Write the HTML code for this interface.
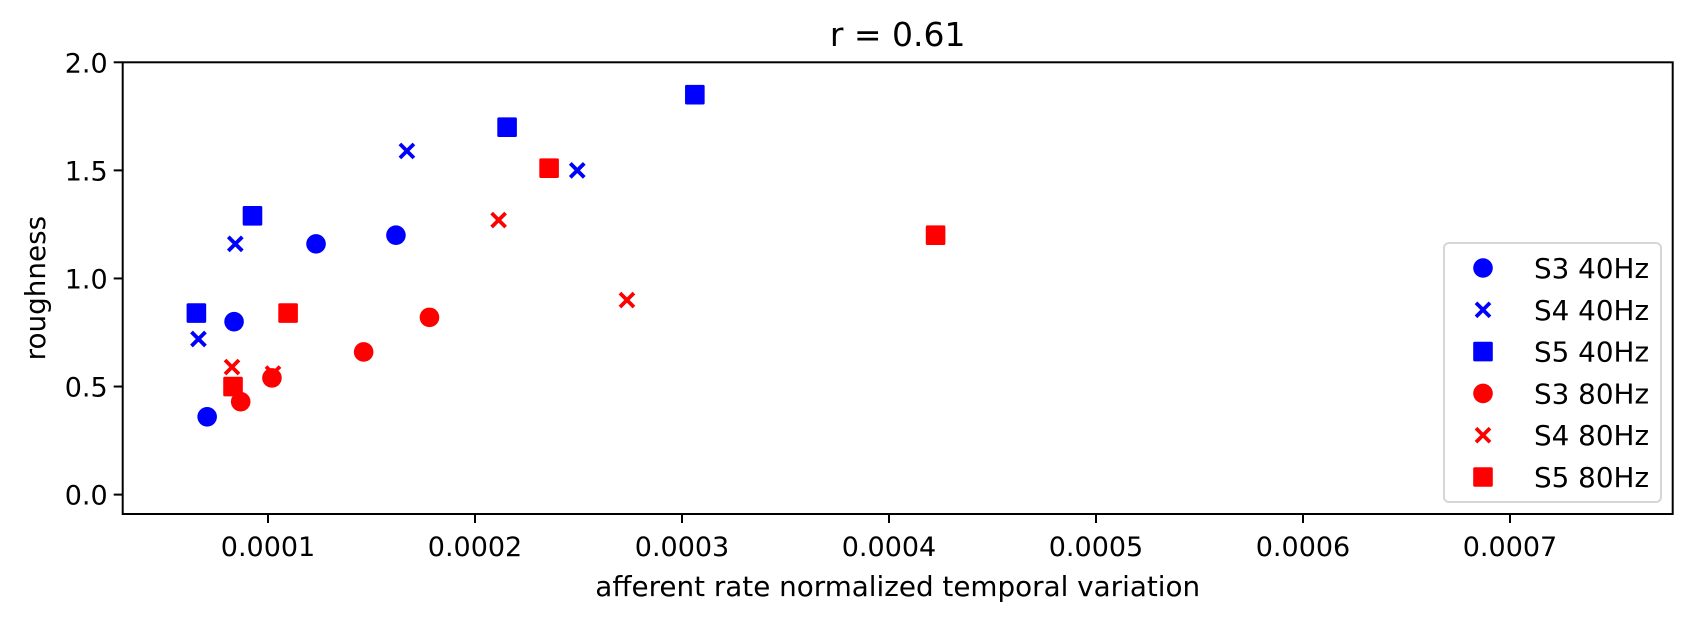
<!DOCTYPE html>
<html><head><meta charset="utf-8"><style>
html,body{margin:0;padding:0;background:#fff;}
svg{display:block;font-family:"DejaVu Sans","Liberation Sans",sans-serif;}
</style></head><body>
<svg id="chart" width="1692" height="622" viewBox="0 0 1692 622" xmlns="http://www.w3.org/2000/svg">
<rect width="1692" height="622" fill="#fff"/>
<g id="marks"></g>
<g id="axes"></g>
<g id="legend"></g>
</svg>
<script>
const seriesNames = ["S3 40Hz","S4 40Hz","S5 40Hz","S3 80Hz","S4 80Hz","S5 80Hz"];
const seriesColors = ["#0000ff","#0000ff","#0000ff","#ff0000","#ff0000","#ff0000"];
const seriesMarkers = ["circle","x","square","circle","x","square"];
const s3_40_x = [0.0000706,0.0000836,0.0001232,0.0001618];
const s3_40_y = [0.36,0.80,1.16,1.20];
const s4_40_x = [0.0000664,0.0000842,0.0001671,0.0002494];
const s4_40_y = [0.72,1.16,1.59,1.50];
const s5_40_x = [0.0000654,0.0000925,0.0002155,0.0003062];
const s5_40_y = [0.84,1.29,1.70,1.85];
const s3_80_x = [0.0000868,0.0001019,0.0001462,0.000178];
const s3_80_y = [0.43,0.54,0.66,0.82];
const s4_80_x = [0.0000826,0.0001024,0.0002114,0.0002734];
const s4_80_y = [0.59,0.56,1.27,0.90];
const s5_80_x = [0.0000831,0.0001097,0.0002358,0.0004225];
const s5_80_y = [0.50,0.84,1.51,1.20];
const xTicks = [0.0001,0.0002,0.0003,0.0004,0.0005,0.0006,0.0007];
const xTickLabels = ["0.0001","0.0002","0.0003","0.0004","0.0005","0.0006","0.0007"];
const yTicks = [0.0,0.5,1.0,1.5,2.0];
const yTickLabels = ["0.0","0.5","1.0","1.5","2.0"];

const NS="http://www.w3.org/2000/svg";
const L=122.7,R=1672.7,T=62.3,B=514;
const xmin=0.0000298,xmax=0.0007786,ymin=-0.0897,ymax=2.0;
function sx(v){return L+(v-xmin)/(xmax-xmin)*(R-L);}
function sy(v){return B-(v-ymin)/(ymax-ymin)*(B-T);}
function mk(tag,attrs,parent){const e=document.createElementNS(NS,tag);for(const k in attrs)e.setAttribute(k,attrs[k]);parent.appendChild(e);return e;}

function drawMarker(parent,type,cx,cy,color){
  let el;
  if(type==="circle"){el=mk("circle",{cx:cx,cy:cy,r:9.8,fill:color},parent);}
  else if(type==="square"){el=mk("rect",{x:cx-9.8,y:cy-9.8,width:19.6,height:19.6,rx:1.5,fill:color},parent);}
  else{el=mk("path",{d:`M${cx-7},${cy-7}L${cx+7},${cy+7}M${cx-7},${cy+7}L${cx+7},${cy-7}`,stroke:color,"stroke-width":3.8,fill:"none"},parent);}
  return el;
}

const marks=document.getElementById("marks");
const allX=[s3_40_x,s4_40_x,s5_40_x,s3_80_x,s4_80_x,s5_80_x];
const allY=[s3_40_y,s4_40_y,s5_40_y,s3_80_y,s4_80_y,s5_80_y];
allX.forEach((xs,si)=>{
  xs.forEach((xv,i)=>{
    const el=drawMarker(marks,seriesMarkers[si],sx(xv),sy(allY[si][i]),seriesColors[si]);
    
    
  });
});

const axes=document.getElementById("axes");
const frame=mk("rect",{x:L,y:T,width:R-L,height:B-T,fill:"none",stroke:"#000","stroke-width":2},axes);


xTicks.forEach((v,i)=>{
  const x=sx(v);
  const t=mk("line",{x1:x,y1:B,x2:x,y2:B+9,stroke:"#000","stroke-width":2},axes);
  
  
  const lb=mk("text",{x:x,y:556,"text-anchor":"middle","font-size":27,fill:"#000"},axes);
  lb.textContent=xTickLabels[i];
  
  
});
yTicks.forEach((v,i)=>{
  const y=sy(v);
  const t=mk("line",{x1:L-9,y1:y,x2:L,y2:y,stroke:"#000","stroke-width":2},axes);
  
  
  const lb=mk("text",{x:L-15,y:y+10,"text-anchor":"end","font-size":27,fill:"#000"},axes);
  lb.textContent=yTickLabels[i];
  
  
});
const title=mk("text",{x:(L+R)/2,y:46,"text-anchor":"middle","font-size":33,fill:"#000"},axes);
title.textContent="r = 0.61";


const xl=mk("text",{x:(L+R)/2,y:596,"text-anchor":"middle","font-size":27.8,fill:"#000"},axes);
xl.textContent="afferent rate normalized temporal variation";


const yl=mk("text",{x:0,y:0,"text-anchor":"middle","font-size":27.8,fill:"#000",transform:`translate(45,${(T+B)/2}) rotate(-90)`},axes);
yl.textContent="roughness";



const legend=document.getElementById("legend");
const lbox=mk("rect",{x:1444,y:243,width:217,height:259,rx:5,fill:"#fff","fill-opacity":0.8,stroke:"#d6d6d6","stroke-width":2},legend);


seriesNames.forEach((n,i)=>{
  const y=268+i*41.8;
  const g=mk("g",{},legend);
  
  
  drawMarker(g,seriesMarkers[i],1483,y,seriesColors[i]);
  const t=mk("text",{x:1534,y:y+10,"font-size":27.8,fill:"#000"},g);
  t.textContent=n;
});
</script>
</body></html>
